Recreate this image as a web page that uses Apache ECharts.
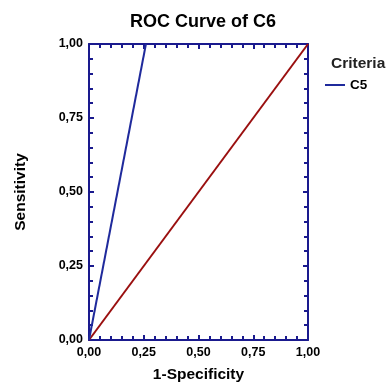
<!DOCTYPE html>
<html><head><meta charset="utf-8">
<script src="https://cdn.jsdelivr.net/npm/echarts@6/dist/echarts.min.js"></script>
<style>html,body{margin:0;padding:0;background:#fff}#c{width:387px;height:388px}</style>
</head><body><div id="c"></div>
<script>
var curveName = 'C5';
var curveX = [0, 0.26];
var curveY = [0, 1];
var refX = [0, 1];
var refY = [0, 1];
var ticks = [0, 0.25, 0.5, 0.75, 1];

var navy = '#1a1a8e';
var font = '"Liberation Sans", Arial, sans-serif';
function fmt(v){ return v.toFixed(2).replace('.', ','); }
function pairs(xs, ys){ return xs.map(function(x,i){ return [x, ys[i]]; }); }

var baseAxis = {
  type: 'value', min: 0, max: 1, interval: 0.25,
  axisLine: {show: true, onZero: false, lineStyle: {color: navy, width: 2}},
  axisTick: {show: true, inside: true, length: 5, lineStyle: {color: navy, width: 2}},
  minorTick: {show: true, splitNumber: 5, length: 4, lineStyle: {color: navy, width: 2}},
  splitLine: {show: false},
  axisLabel: {show: true, color: '#000', fontFamily: font, fontWeight: 'bold', fontSize: 12.5}
};
function clone(o){ return JSON.parse(JSON.stringify(o)); }

var x1 = clone(baseAxis); x1.axisLabel.formatter = fmt; x1.axisLabel.margin = 6;
x1.name = '1-Specificity'; x1.nameLocation = 'middle'; x1.nameGap = 27;
x1.nameTextStyle = {fontFamily: font, fontWeight: 'bold', fontSize: 15.5, color: '#000'};
var x2 = clone(baseAxis); x2.position = 'top'; x2.axisLabel = {show: false};
var y1 = clone(baseAxis); y1.axisLabel.formatter = fmt; y1.axisLabel.margin = 6;
y1.name = 'Sensitivity'; y1.nameLocation = 'middle'; y1.nameGap = 60; y1.nameRotate = 90;
y1.nameTextStyle = {fontFamily: font, fontWeight: 'bold', fontSize: 15.5, color: '#000'};
var y2 = clone(baseAxis); y2.position = 'right'; y2.axisLabel = {show: false};

var chart = echarts.init(document.getElementById('c'), null, {renderer: 'canvas'});
chart.setOption({
  animation: false,
  backgroundColor: '#fff',
  title: [
    {text: 'ROC Curve of C6', left: 198, top: 8, textAlign: 'center',
     textStyle: {fontFamily: font, fontWeight: 'bold', fontSize: 18, color: '#000'}},
    {text: 'Criteria', left: 326, top: 51,
     textStyle: {fontFamily: font, fontWeight: 'bold', fontSize: 15.5, color: '#222'}}
  ],
  legend: {
    data: [curveName], left: 320, top: 73, orient: 'vertical',
    itemWidth: 20, itemHeight: 2, itemGap: 6,
    icon: 'rect',
    textStyle: {fontFamily: font, fontWeight: 'bold', fontSize: 13.5, color: '#000'}
  },
  grid: {left: 89, right: 79, top: 44, bottom: 48},
  xAxis: [x1, x2],
  yAxis: [y1, y2],
  series: [
    {name: 'Reference', type: 'line', data: pairs(refX, refY), showSymbol: false,
     lineStyle: {color: '#9a0f0f', width: 2}, itemStyle: {color: '#9a0f0f'}, z: 2},
    {name: curveName, type: 'line', data: pairs(curveX, curveY), showSymbol: false,
     lineStyle: {color: '#1f2a9c', width: 2}, itemStyle: {color: '#1f2a9c'}, z: 3}
  ]
});
</script></body></html>
